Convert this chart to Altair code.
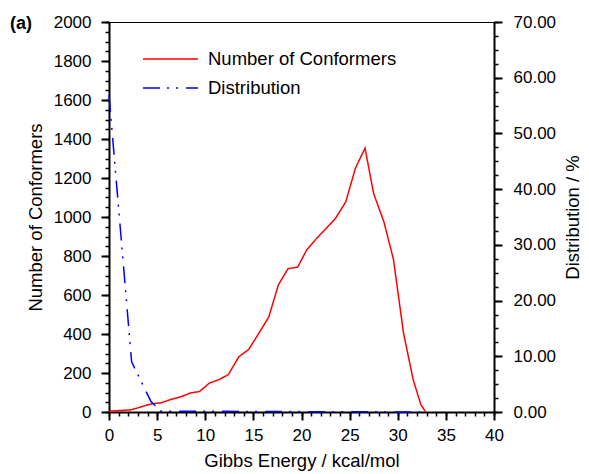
import altair as alt
import pandas as pd

# Number of conformers (left axis)
energy_conf = [0, 2.3, 4.4, 5.4, 6.4, 7.45, 8.5, 9.4, 10.45, 11.4, 12.4, 13.5, 14.5, 15.55,
               16.6, 17.6, 18.6, 19.6, 20.55, 21.6, 22.6, 23.55, 24.6, 25.6, 26.6, 27.5,
               28.55, 29.55, 30.6, 31.6, 32.4, 32.9]
n_conformers = [4, 11, 42, 47, 64, 78, 98, 105, 149, 165, 192, 284, 320, 402,
                487, 652, 735, 743, 832, 892, 943, 994, 1078, 1250, 1353, 1119,
                977, 784, 405, 166, 38, 0]

# Distribution in % (right axis)
energy_dist = [0, 2.35, 4.35, 5.4, 32.9]
distribution = [56.9, 9.0, 1.9, 0.15, 0.0]

series_names = ["Number of Conformers", "Distribution"]
series_colors = ["#ff0000", "#0000ff"]

x_major = list(range(0, 41, 5))
x_minor = list(range(0, 41))
left_major = list(range(0, 2001, 200))
left_minor = list(range(0, 2001, 50))
right_major = list(range(0, 71, 10))
right_minor = [i * 2.5 for i in range(29)]

FONT = "Liberation Sans"
TICK_FS = 17
TITLE_FS = 18.5

df_conf = pd.DataFrame({"x": energy_conf, "y": n_conformers, "series": series_names[0]})
df_dist = pd.DataFrame({"x": energy_dist, "y": distribution, "series": series_names[1]})

xs = alt.Scale(domain=[0, 40], nice=False)
ys_left = alt.Scale(domain=[0, 2000], nice=False)
ys_right = alt.Scale(domain=[0, 70], nice=False)

color = alt.Color("series:N", scale=alt.Scale(domain=series_names, range=series_colors),
                  title=None,
                  legend=alt.Legend(orient="none", legendX=33, legendY=27, labelFont=FONT,
                                    labelFontSize=TITLE_FS, labelColor="black", labelLimit=400,
                                    symbolType="stroke", symbolSize=3025, symbolStrokeWidth=1.5,
                                    clipHeight=20, rowPadding=9, labelOffset=9, padding=0))
dash = alt.StrokeDash("series:N",
                      scale=alt.Scale(domain=series_names, range=[[1, 0], [17, 7, 2, 7, 2, 8]]),
                      title=None, legend=None)

minor_axis = dict(labels=False, domain=False, tickSize=4, tickWidth=1.5, tickColor="black",
                  title=None, grid=False)

red = alt.Chart(df_conf).mark_line(strokeWidth=1.5).encode(
    x=alt.X("x:Q", scale=xs,
            axis=alt.Axis(orient="bottom", values=x_major, format="d", tickSize=8, tickWidth=2,
                          labelPadding=7, labelFlush=False,
                          title="Gibbs Energy / kcal/mol", titleBaseline="alphabetic",
                          titleY=54)),
    y=alt.Y("y:Q", scale=ys_left,
            axis=alt.Axis(orient="left", values=left_major, format="d", tickSize=8,
                          tickWidth=2, labelPadding=10, labelFlush=False,
                          title="Number of Conformers", titleAngle=270, titleAlign="center",
                          titleBaseline="middle", titleX=-74, titleY=195)),
    color=color,
    strokeDash=dash,
)

blue = alt.Chart(df_dist).mark_line(strokeWidth=1.5).encode(
    x=alt.X("x:Q", scale=xs, axis=None),
    y=alt.Y("y:Q", scale=ys_right,
            axis=alt.Axis(orient="right", values=right_major, format=".2f", tickSize=8,
                          tickWidth=2, labelPadding=11, labelFlush=False,
                          title="Distribution / %", titleAngle=270, titleAlign="center",
                          titleBaseline="middle", titleX=78, titleY=195)),
    color=color,
    strokeDash=dash,
)

red_minor = alt.Chart(df_conf).mark_line(strokeOpacity=0).encode(
    x=alt.X("x:Q", scale=xs, axis=alt.Axis(orient="bottom", values=x_minor, **minor_axis)),
    y=alt.Y("y:Q", scale=ys_left, axis=alt.Axis(orient="left", values=left_minor, **minor_axis)),
)

blue_minor = alt.Chart(df_dist).mark_line(strokeOpacity=0).encode(
    x=alt.X("x:Q", scale=xs, axis=None),
    y=alt.Y("y:Q", scale=ys_right, axis=alt.Axis(orient="right", values=right_minor, **minor_axis)),
)

chart = alt.layer(red_minor, blue_minor, red, blue).resolve_scale(
    y="independent"
).resolve_axis(
    x="independent", y="independent"
).properties(
    width=385, height=390,
    autosize=alt.AutoSizeParams(type="none"),
    padding={"left": 101, "top": 14, "right": 87, "bottom": 62},
    title=alt.TitleParams("(a)", anchor="start", frame="group", dx=-99, dy=24,
                          font=FONT, fontSize=18, fontWeight="bold", color="black"),
).configure_view(
    stroke="black", strokeWidth=1
).configure_axis(
    domainColor="black", domainWidth=2, tickColor="black", labelColor="black",
    labelFont=FONT, labelFontSize=TICK_FS, titleFont=FONT, titleFontSize=TITLE_FS,
    titleFontWeight="normal", titleColor="black", grid=False,
)

chart.save("out.html", embed_options={"renderer": "svg", "actions": False})
